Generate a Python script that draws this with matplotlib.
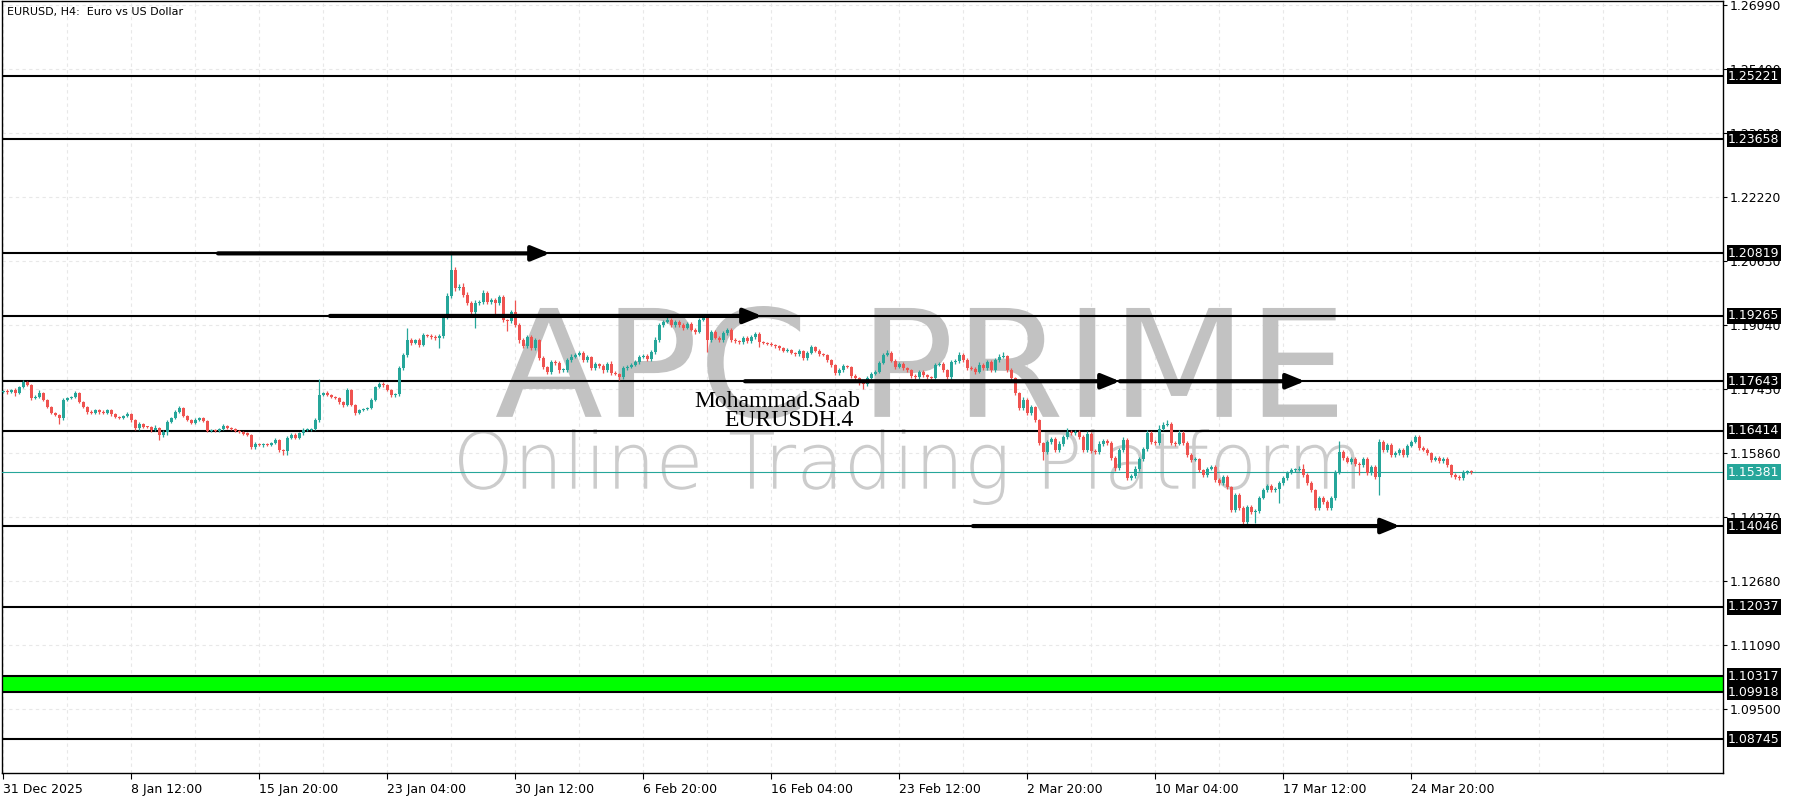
import matplotlib
matplotlib.use('Agg')
import matplotlib.pyplot as plt
from matplotlib.textpath import TextPath
from matplotlib.patches import PathPatch
from matplotlib.font_manager import FontProperties
from matplotlib.transforms import Affine2D, IdentityTransform, blended_transform_factory

# ---------------- data ----------------
first_open = 1.1738
closes = [
    1.1740, 1.1738, 1.1743, 1.1735, 1.1750, 1.1763, 1.1755, 1.1723, 1.1725, 1.1735, 1.1718, 1.1701, 1.1686, 1.1681, 1.1673, 1.1718,
    1.1723, 1.1725, 1.1735, 1.1713, 1.1701, 1.1688, 1.1686, 1.1693, 1.1688, 1.1686, 1.1693, 1.1683, 1.1676, 1.1673, 1.1678, 1.1683,
    1.1668, 1.1648, 1.1658, 1.1651, 1.1650, 1.1643, 1.1648, 1.1631, 1.1638, 1.1663, 1.1673, 1.1688, 1.1698, 1.1678, 1.1668, 1.1661,
    1.1668, 1.1673, 1.1666, 1.1641, 1.1643, 1.1640, 1.1646, 1.1653, 1.1648, 1.1646, 1.1641, 1.1638, 1.1634, 1.1632, 1.1601, 1.1609,
    1.1606, 1.1609, 1.1607, 1.1611, 1.1619, 1.1594, 1.1590, 1.1624, 1.1631, 1.1624, 1.1636, 1.1643, 1.1644, 1.1646, 1.1668, 1.1730,
    1.1735, 1.1730, 1.1725, 1.1723, 1.1713, 1.1706, 1.1743, 1.1706, 1.1686, 1.1693, 1.1696, 1.1698, 1.1718, 1.1750, 1.1758, 1.1755,
    1.1743, 1.1730, 1.1733, 1.1797, 1.1830, 1.1867, 1.1860, 1.1867, 1.1855, 1.1879, 1.1877, 1.1874, 1.1872, 1.1877, 1.1922, 1.1976,
    1.2041, 1.1996, 1.1999, 1.1979, 1.1959, 1.1937, 1.1959, 1.1961, 1.1984, 1.1961, 1.1966, 1.1959, 1.1974, 1.1917, 1.1915, 1.1937,
    1.1904, 1.1867, 1.1852, 1.1874, 1.1847, 1.1867, 1.1822, 1.1800, 1.1788, 1.1812, 1.1810, 1.1792, 1.1793, 1.1817, 1.1825, 1.1830,
    1.1835, 1.1817, 1.1825, 1.1797, 1.1807, 1.1802, 1.1792, 1.1807, 1.1785, 1.1783, 1.1775, 1.1797, 1.1800, 1.1805, 1.1812, 1.1825,
    1.1827, 1.1820, 1.1837, 1.1867, 1.1904, 1.1912, 1.1917, 1.1904, 1.1912, 1.1904, 1.1897, 1.1907, 1.1892, 1.1887, 1.1917, 1.1922,
    1.1867, 1.1887, 1.1872, 1.1867, 1.1884, 1.1892, 1.1867, 1.1864, 1.1862, 1.1872, 1.1864, 1.1874, 1.1882, 1.1862, 1.1860, 1.1858,
    1.1855, 1.1852, 1.1847, 1.1840, 1.1842, 1.1835, 1.1832, 1.1840, 1.1822, 1.1835, 1.1850, 1.1840, 1.1832, 1.1830, 1.1817, 1.1805,
    1.1785, 1.1792, 1.1802, 1.1800, 1.1778, 1.1773, 1.1763, 1.1758, 1.1773, 1.1783, 1.1788, 1.1810, 1.1830, 1.1835, 1.1815, 1.1800,
    1.1807, 1.1797, 1.1792, 1.1778, 1.1775, 1.1788, 1.1780, 1.1775, 1.1773, 1.1805, 1.1807, 1.1792, 1.1775, 1.1812, 1.1814, 1.1830,
    1.1817, 1.1797, 1.1795, 1.1788, 1.1805, 1.1797, 1.1812, 1.1792, 1.1817, 1.1825, 1.1827, 1.1792, 1.1773, 1.1735, 1.1698, 1.1718,
    1.1686, 1.1701, 1.1668, 1.1611, 1.1589, 1.1614, 1.1621, 1.1594, 1.1609, 1.1626, 1.1639, 1.1636, 1.1639, 1.1626, 1.1594, 1.1634,
    1.1591, 1.1589, 1.1609, 1.1616, 1.1611, 1.1574, 1.1549, 1.1594, 1.1619, 1.1524, 1.1529, 1.1547, 1.1571, 1.1596, 1.1636, 1.1614,
    1.1611, 1.1646, 1.1656, 1.1658, 1.1611, 1.1609, 1.1636, 1.1611, 1.1581, 1.1569, 1.1570, 1.1544, 1.1532, 1.1547, 1.1552, 1.1519,
    1.1512, 1.1527, 1.1502, 1.1445, 1.1482, 1.1450, 1.1415, 1.1452, 1.1440, 1.1442, 1.1475, 1.1494, 1.1504, 1.1494, 1.1497, 1.1512,
    1.1524, 1.1537, 1.1544, 1.1545, 1.1547, 1.1532, 1.1512, 1.1494, 1.1450, 1.1475, 1.1465, 1.1450, 1.1475, 1.1537, 1.1589, 1.1574,
    1.1564, 1.1571, 1.1559, 1.1556, 1.1571, 1.1537, 1.1552, 1.1527, 1.1614, 1.1594, 1.1606, 1.1581, 1.1586, 1.1594, 1.1581, 1.1604,
    1.1614, 1.1626, 1.1599, 1.1594, 1.1586, 1.1569, 1.1574, 1.1566, 1.1571, 1.1556, 1.1532, 1.1527, 1.1524, 1.1539, 1.1541, 1.1538,
]
upper_wick_pips = [
    3, 4, 3, 5, 3, 4, 2, 3, 6, 8, 2, 3, 2, 3, 3, 4,
    3, 3, 4, 3, 2, 3, 4, 3, 3, 4, 3, 2, 3, 2, 3, 4,
    2, 3, 4, 3, 2, 3, 8, 3, 4, 4, 3, 4, 5, 3, 2, 3,
    4, 3, 3, 2, 3, 3, 3, 4, 3, 3, 2, 2, 3, 3, 2, 4,
    3, 3, 3, 3, 4, 2, 3, 5, 4, 4, 3, 4, 3, 3, 4, 40,
    3, 4, 3, 3, 2, 3, 4, 3, 3, 3, 3, 3, 4, 3, 4, 5,
    3, 3, 3, 4, 5, 30, 4, 3, 4, 4, 3, 4, 5, 5, 6, 8,
    41, 6, 8, 10, 6, 5, 6, 5, 8, 4, 5, 6, 5, 4, 3, 5,
    30, 5, 4, 6, 4, 5, 3, 4, 3, 6, 4, 4, 5, 5, 6, 5,
    5, 4, 5, 3, 5, 3, 4, 4, 8, 4, 3, 4, 5, 4, 5, 5,
    4, 4, 5, 6, 5, 5, 6, 4, 5, 4, 5, 4, 4, 5, 5, 6,
    4, 5, 4, 4, 5, 5, 4, 4, 3, 4, 4, 5, 5, 4, 3, 3,
    3, 3, 3, 3, 4, 3, 3, 4, 3, 4, 5, 3, 4, 3, 3, 3,
    3, 4, 4, 3, 3, 4, 3, 3, 4, 4, 5, 5, 5, 6, 4, 4,
    5, 4, 3, 3, 4, 5, 4, 3, 3, 5, 6, 4, 3, 5, 5, 6,
    4, 4, 4, 5, 6, 4, 5, 4, 5, 6, 10, 3, 4, 3, 3, 6,
    4, 5, 3, 3, 3, 5, 6, 4, 6, 6, 10, 5, 5, 4, 4, 6,
    4, 5, 6, 5, 6, 4, 4, 5, 6, 5, 5, 6, 5, 6, 8, 5,
    5, 10, 6, 10, 5, 5, 6, 5, 4, 4, 5, 4, 3, 5, 4, 4,
    4, 5, 4, 3, 5, 4, 4, 5, 4, 5, 5, 6, 5, 4, 4, 5,
    5, 5, 5, 5, 6, 12, 4, 4, 3, 5, 5, 4, 5, 6, 26, 5,
    4, 5, 5, 4, 6, 4, 5, 4, 6, 5, 6, 4, 5, 4, 5, 5,
    5, 6, 4, 4, 4, 3, 4, 4, 5, 4, 3, 4, 4, 4, 4, 3,
]
lower_wick_pips = [
    4, 5, 4, 8, 3, 3, 3, 5, 4, 3, 3, 3, 4, 3, 15, 4,
    3, 4, 3, 3, 3, 4, 4, 3, 4, 3, 3, 4, 3, 3, 3, 3,
    4, 5, 4, 3, 3, 4, 3, 12, 4, 6, 3, 3, 3, 3, 3, 4,
    3, 3, 3, 4, 3, 3, 3, 3, 3, 3, 4, 3, 3, 4, 5, 4,
    3, 4, 3, 3, 3, 6, 8, 10, 4, 4, 3, 4, 3, 3, 4, 4,
    3, 3, 3, 4, 4, 5, 4, 4, 5, 3, 3, 3, 3, 3, 3, 4,
    4, 4, 4, 5, 4, 5, 5, 4, 5, 4, 4, 4, 5, 25, 5, 4,
    4, 8, 6, 5, 6, 5, 40, 6, 6, 5, 5, 30, 5, 5, 25, 5,
    5, 8, 6, 6, 5, 5, 6, 6, 5, 6, 5, 6, 4, 5, 4, 4,
    4, 5, 5, 6, 5, 5, 6, 5, 5, 4, 8, 5, 5, 4, 4, 4,
    4, 5, 5, 5, 4, 4, 4, 4, 4, 5, 5, 4, 4, 5, 4, 4,
    30, 5, 4, 5, 4, 4, 4, 4, 4, 4, 4, 4, 4, 12, 4, 4,
    4, 4, 4, 4, 4, 4, 4, 4, 5, 4, 3, 4, 4, 4, 4, 5,
    5, 4, 4, 4, 5, 6, 8, 12, 5, 4, 4, 4, 3, 3, 4, 5,
    4, 4, 4, 5, 5, 4, 4, 5, 4, 4, 4, 5, 5, 4, 4, 4,
    4, 5, 4, 5, 4, 4, 4, 5, 4, 4, 4, 4, 5, 6, 5, 6,
    5, 6, 5, 6, 20, 5, 5, 6, 5, 5, 4, 4, 4, 5, 6, 5,
    6, 6, 5, 5, 5, 6, 8, 6, 5, 6, 6, 6, 5, 5, 4, 5,
    5, 4, 4, 4, 5, 5, 4, 5, 4, 5, 4, 5, 6, 5, 4, 6,
    5, 6, 5, 6, 6, 6, 5, 5, 5, 28, 5, 4, 4, 4, 5, 35,
    5, 4, 4, 4, 4, 5, 5, 6, 6, 5, 5, 6, 5, 5, 4, 5,
    4, 5, 5, 25, 4, 5, 5, 6, 45, 5, 5, 5, 5, 5, 4, 5,
    4, 4, 5, 4, 4, 5, 4, 5, 4, 5, 5, 5, 6, 4, 4, 3,
]

x_tick_bars = [0, 32, 64, 96, 128, 160, 192, 224, 256, 288, 320, 352]
x_tick_labels = ['31 Dec 2025', '8 Jan 12:00', '15 Jan 20:00', '23 Jan 04:00', '30 Jan 12:00',
                 '6 Feb 20:00', '16 Feb 04:00', '23 Feb 12:00', '2 Mar 20:00', '10 Mar 04:00',
                 '17 Mar 12:00', '24 Mar 20:00']
price_ticks = [1.26990, 1.25400, 1.23810, 1.22220, 1.20630, 1.19040, 1.17450,
               1.15860, 1.14270, 1.12680, 1.11090, 1.09500]
level_lines = [1.25221, 1.23658, 1.20819, 1.19265, 1.17643, 1.16414, 1.14046, 1.12037, 1.08745]
zone_low, zone_high = 1.09918, 1.10317
current_price = 1.15381
# arrows: (start bar, tip bar, price)
arrow_starts = [53.75, 81.75, 185.5, 279.25, 242.5]
arrow_tips = [136.75, 189.75, 279.25, 325.5, 349.25]
arrow_prices = [1.20819, 1.19265, 1.17643, 1.17643, 1.14046]

title_text = 'EURUSD, H4:  Euro vs US Dollar'
author_lines = ['Mohammad.Saab', 'EURUSDH.4']

# ---------------- style ----------------
W, H = 1800, 800
BULL = '#26a69a'
BEAR = '#ef5350'
fig = plt.figure(figsize=(W / 100, H / 100), dpi=100)
fig.patch.set_facecolor('white')
ax_left, ax_right, ax_top, ax_bottom = 2, 1723, 1, 773
ax = fig.add_axes([ax_left / W, 1 - ax_bottom / H, (ax_right - ax_left) / W, (ax_bottom - ax_top) / H])
ax.set_facecolor('white')

ax.set_xlim(-0.25, 430)
ax.set_ylim(1.07912, 1.27088)

# grid
for b in range(0, 430, 16):
    ax.axvline(b, color='#e8e8e8', lw=0.8, ls=(0, (3, 3)), zorder=0.2)
for p in price_ticks:
    ax.axhline(p, color='#e8e8e8', lw=0.8, ls=(0, (3, 3)), zorder=0.2)

# watermark (pixel-positioned decoration)
def watermark(text, x0, y0, x1, y1, color, family, weight):
    tp = TextPath((0, 0), text, size=100, prop=FontProperties(family=family, weight=weight))
    bb = tp.get_extents()
    tr = Affine2D().translate(-bb.x0, -bb.y0).scale((x1 - x0) / bb.width, (y1 - y0) / bb.height)
    tr = tr.translate(x0, H - y1)
    patch = PathPatch(tp, transform=tr + IdentityTransform(), facecolor=color, edgecolor='none', zorder=0.5)
    ax.add_artist(patch)

watermark('APC PRIME', 496, 306, 1337, 419, '#c2c2c2', 'DejaVu Sans', 'normal')
watermark('Online Trading Platform', 459, 429, 1355, 505, '#cccccc', 'DejaVu Sans', 'light')

# level lines
for lv in level_lines:
    ax.axhline(lv, color='black', lw=1.5, zorder=3)
ax.axhspan(zone_low, zone_high, color='#00ff00', zorder=2.5, lw=0)
ax.axhline(zone_low, color='black', lw=1.5, zorder=3)
ax.axhline(zone_high, color='black', lw=1.5, zorder=3)
ax.axhline(current_price, color=BULL, lw=0.8, zorder=3)

# candles
opens = [first_open] + closes[:-1]
xs = list(range(len(closes)))
highs = [max(o, c) + u * 0.0001 for o, c, u in zip(opens, closes, upper_wick_pips)]
lows = [min(o, c) - l * 0.0001 for o, c, l in zip(opens, closes, lower_wick_pips)]
cols = [BULL if c >= o else BEAR for o, c in zip(opens, closes)]
ax.vlines(xs, lows, highs, colors=cols, lw=0.9, zorder=4)
bottoms = [min(o, c) for o, c in zip(opens, closes)]
heights = [max(abs(c - o), 0.00025) for o, c in zip(opens, closes)]
ax.bar(xs, heights, bottom=bottoms, width=0.75, color=cols, lw=0, zorder=4.5)

# arrows
for s, t, p in zip(arrow_starts, arrow_tips, arrow_prices):
    ax.annotate('', xy=(t, p), xytext=(s, p),
                arrowprops=dict(arrowstyle='-|>,head_length=1.1,head_width=0.45', lw=3,
                                color='black', shrinkA=0, shrinkB=0), zorder=6)

# texts
ax.text(5 / (ax_right - ax_left), 1 - 11 / (ax_bottom - ax_top), title_text, transform=ax.transAxes,
        fontsize=8, va='center', ha='left', color='black', zorder=7)
ax.text(193.5, 1.1713, author_lines[0], fontsize=17, family='Liberation Serif', ha='center', va='center', zorder=7)
ax.text(196.5, 1.1667, author_lines[1], fontsize=17, family='Liberation Serif', ha='center', va='center', zorder=7)

# axes
for side in ['top', 'right', 'left', 'bottom']:
    ax.spines[side].set_color('black')
    ax.spines[side].set_linewidth(1.0)
ax.yaxis.tick_right()
ax.set_yticks(price_ticks)
ax.set_yticklabels([f'{p:.5f}' for p in price_ticks], fontsize=9)
ax.tick_params(axis='y', length=3, width=0.8, pad=2, direction='out')
ax.set_xticks(x_tick_bars)
ax.set_xticklabels(x_tick_labels, fontsize=9)
ax.tick_params(axis='x', length=4, width=0.8, pad=3, direction='out')
for lab in ax.get_xticklabels():
    lab.set_ha('left')

# price boxes
btr = blended_transform_factory(ax.transAxes, ax.transData)
bx = 1 + 5 / (ax_right - ax_left)
for lv in level_lines + [zone_high, zone_low]:
    ax.text(bx, lv, f'{lv:.5f}', transform=btr, fontsize=9, color='white', ha='left', va='center',
            bbox=dict(boxstyle='square,pad=0.12', fc='black', ec='none'), clip_on=False, zorder=10)
ax.text(bx, current_price, f'{current_price:.5f}', transform=btr, fontsize=9, color='white', ha='left',
        va='center', bbox=dict(boxstyle='square,pad=0.12', fc=BULL, ec='none'), clip_on=False, zorder=10)

fig.savefig('out.png', dpi=100, facecolor='white')
